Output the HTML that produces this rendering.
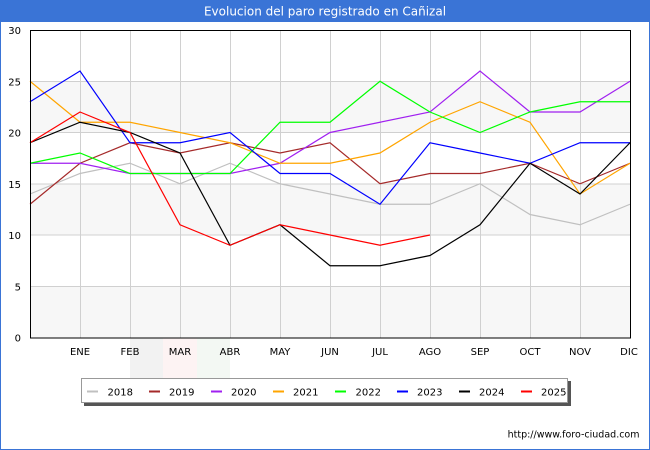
<!DOCTYPE html>
<html><head><meta charset="utf-8"><style>
html,body{margin:0;padding:0;background:#fff;}
svg{display:block;font-family:"DejaVu Sans","Liberation Sans",sans-serif;}
</style></head><body>
<svg width="650" height="450" viewBox="0 0 650 450" xmlns="http://www.w3.org/2000/svg">
<rect x="0" y="0" width="650" height="450" fill="#fff"/>
<rect x="0.5" y="0.5" width="649" height="449" fill="none" stroke="#3a74d6" stroke-width="1"/>
<rect x="0" y="0" width="650" height="22" fill="#3a74d6"/>
<text x="325" y="15.5" text-anchor="middle" font-size="12" fill="#fff">Evolucion del paro registrado en Cañizal</text>

<!-- watermark -->
<rect x="130" y="338" width="33" height="40" fill="#f2f2f2"/>
<rect x="163" y="338" width="34" height="40" fill="#fdf3f3"/>
<rect x="197" y="338" width="33" height="40" fill="#f3f8f3"/>

<!-- bands -->
<rect x="30" y="81.25" width="600" height="51.25" fill="#f7f7f7"/>
<rect x="30" y="183.75" width="600" height="51.25" fill="#f7f7f7"/>
<rect x="30" y="286.25" width="600" height="51.25" fill="#f7f7f7"/>

<!-- grid -->
<g stroke="#d0d0d0" stroke-width="1">
<line x1="30" y1="81.5" x2="630" y2="81.5"/>
<line x1="30" y1="132.5" x2="630" y2="132.5"/>
<line x1="30" y1="184" x2="630" y2="184"/>
<line x1="30" y1="235" x2="630" y2="235"/>
<line x1="30" y1="286.5" x2="630" y2="286.5"/>
<line x1="80.5" y1="30" x2="80.5" y2="338"/>
<line x1="130.5" y1="30" x2="130.5" y2="338"/>
<line x1="180.5" y1="30" x2="180.5" y2="338"/>
<line x1="230.5" y1="30" x2="230.5" y2="338"/>
<line x1="280.5" y1="30" x2="280.5" y2="338"/>
<line x1="330.5" y1="30" x2="330.5" y2="338"/>
<line x1="380.5" y1="30" x2="380.5" y2="338"/>
<line x1="430.5" y1="30" x2="430.5" y2="338"/>
<line x1="480.5" y1="30" x2="480.5" y2="338"/>
<line x1="530.5" y1="30" x2="530.5" y2="338"/>
<line x1="580.5" y1="30" x2="580.5" y2="338"/>
</g>

<!-- series -->
<g fill="none" stroke-width="1.2" stroke-linejoin="miter" transform="translate(30,337.5) scale(50,-10.25)">
<polyline vector-effect="non-scaling-stroke" stroke="#c0c0c0" points="0,14 1,16 2,17 3,15 4,17 5,15 6,14 7,13 8,13 9,15 10,12 11,11 12,13"/>
<polyline vector-effect="non-scaling-stroke" stroke="#a52a2a" points="0,13 1,17 2,19 3,18 4,19 5,18 6,19 7,15 8,16 9,16 10,17 11,15 12,17"/>
<polyline vector-effect="non-scaling-stroke" stroke="#a020f0" points="0,17 1,17 2,16 3,16 4,16 5,17 6,20 7,21 8,22 9,26 10,22 11,22 12,25"/>
<polyline vector-effect="non-scaling-stroke" stroke="#ffa500" points="0,25 1,21 2,21 3,20 4,19 5,17 6,17 7,18 8,21 9,23 10,21 11,14 12,17"/>
<polyline vector-effect="non-scaling-stroke" stroke="#00ff00" points="0,17 1,18 2,16 3,16 4,16 5,21 6,21 7,25 8,22 9,20 10,22 11,23 12,23"/>
<polyline vector-effect="non-scaling-stroke" stroke="#0000ff" points="0,23 1,26 2,19 3,19 4,20 5,16 6,16 7,13 8,19 9,18 10,17 11,19 12,19"/>
<polyline vector-effect="non-scaling-stroke" stroke="#000000" points="0,19 1,21 2,20 3,18 4,9 5,11 6,7 7,7 8,8 9,11 10,17 11,14 12,19"/>
<polyline vector-effect="non-scaling-stroke" stroke="#ff0000" points="0,19 1,22 2,20 3,11 4,9 5,11 6,10 7,9 8,10"/>
</g>

<!-- frame -->
<rect x="30.5" y="30.5" width="600" height="307.5" fill="none" stroke="#000" stroke-width="1"/>

<!-- y labels -->
<g font-size="10" fill="#000" text-anchor="end">
<text x="21" y="34">30</text>
<text x="21" y="85.5">25</text>
<text x="21" y="136.5">20</text>
<text x="21" y="188">15</text>
<text x="21" y="239">10</text>
<text x="21" y="290.5">5</text>
<text x="21" y="341.5">0</text>
</g>
<!-- x labels -->
<g font-size="10" fill="#000" text-anchor="middle">
<text x="80" y="355">ENE</text>
<text x="130" y="355">FEB</text>
<text x="180" y="355">MAR</text>
<text x="230" y="355">ABR</text>
<text x="280" y="355">MAY</text>
<text x="330" y="355">JUN</text>
<text x="380" y="355">JUL</text>
<text x="430" y="355">AGO</text>
<text x="480" y="355">SEP</text>
<text x="530" y="355">OCT</text>
<text x="580" y="355">NOV</text>
<text x="629" y="355">DIC</text>
</g>

<!-- legend -->
<rect x="84" y="381" width="487" height="25" fill="#555"/>
<rect x="81.5" y="378.5" width="486" height="24" fill="#fff" stroke="#999" stroke-width="1"/>
<g stroke-width="2">
<line x1="87" y1="391.5" x2="98" y2="391.5" stroke="#c0c0c0"/>
<line x1="149" y1="391.5" x2="160" y2="391.5" stroke="#a52a2a"/>
<line x1="211" y1="391.5" x2="222" y2="391.5" stroke="#a020f0"/>
<line x1="273" y1="391.5" x2="284" y2="391.5" stroke="#ffa500"/>
<line x1="335" y1="391.5" x2="346" y2="391.5" stroke="#00ff00"/>
<line x1="397" y1="391.5" x2="408" y2="391.5" stroke="#0000ff"/>
<line x1="459" y1="391.5" x2="470" y2="391.5" stroke="#000000"/>
<line x1="521" y1="391.5" x2="532" y2="391.5" stroke="#ff0000"/>
</g>
<g font-size="10" fill="#000">
<text x="107.5" y="395.5">2018</text>
<text x="169" y="395.5">2019</text>
<text x="231" y="395.5">2020</text>
<text x="293" y="395.5">2021</text>
<text x="355.5" y="395.5">2022</text>
<text x="417" y="395.5">2023</text>
<text x="479" y="395.5">2024</text>
<text x="541" y="395.5">2025</text>
</g>

<text x="639.5" y="437.5" text-anchor="end" font-size="9.5" fill="#000">http://www.foro-ciudad.com</text>
</svg>
</body></html>
